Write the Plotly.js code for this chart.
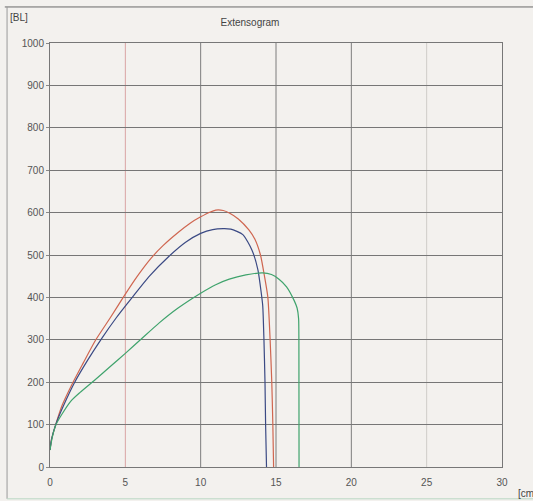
<!DOCTYPE html>
<html>
<head>
<meta charset="utf-8">
<script src="https://cdn.plot.ly/plotly-3.0.1.min.js"></script>
<style>
  html, body { margin: 0; padding: 0; background: #f3f1ee; }
  #chart { width: 533px; height: 501px; }
</style>
</head>
<body>
<div id="chart"></div>
<script>
// Extension [cm] vs resistance [BL]
const redX = [0, 0.1, 0.38, 0.8, 1.53, 2.2, 3.04, 4.0, 4.86, 5.8, 6.7, 7.5, 8.5, 9.3, 10, 10.6, 11.0, 11.5, 11.9, 12.5, 13.2, 13.6, 13.97, 14.24, 14.46, 14.61, 14.72, 14.79, 14.84];
const redY = [40, 65, 100, 145, 200, 245, 300, 352, 400, 450, 492, 522, 553, 575, 590, 601, 606, 605, 599, 585, 559, 537, 500, 449, 400, 300, 200, 100, 0];

const blueX = [0, 0.1, 0.38, 0.9, 1.64, 2.5, 3.37, 4.4, 5.46, 6.6, 7.9, 9.0, 10, 10.8, 11.5, 12.0, 12.8, 13.4, 13.8, 14.02, 14.12, 14.2, 14.27, 14.31, 14.37];
const blueY = [40, 65, 100, 145, 200, 252, 300, 352, 400, 450, 497, 530, 551, 560, 562, 561, 548, 512, 465, 411, 380, 300, 200, 100, 0];

const greenX = [0, 0.15, 0.4, 0.8, 1.4, 2.0, 2.9, 4.0, 5.0, 6.0, 7.25, 8.5, 10, 11, 11.9, 13, 14.1, 14.7, 15.2, 15.7, 16.2, 16.4, 16.5, 16.52, 16.53];
const greenY = [40, 70, 100, 125, 156, 176, 203, 237, 268, 300, 340, 375, 410, 430, 443, 453, 458, 454, 443, 425, 393, 375, 350, 300, 0];

const xTicks = [0, 5, 10, 15, 20, 25, 30];
const yTicks = [0, 100, 200, 300, 400, 500, 600, 700, 800, 900, 1000];
// colour of each vertical gridline (as on the printed sheet)
const xGridColors = ['#777', '#d9a3a3', '#7d7d7d', '#7d7d7d', '#7d7d7d', '#cfccc8', '#777'];

const bg = '#f3f1ee';
const fontFam = '"Liberation Sans Narrow", "Liberation Sans", Arial, sans-serif';

const lineStyle = (c) => ({ color: c, width: 1.2, shape: 'spline', smoothing: 0.6 });

const traces = [
  { x: redX, y: redY, mode: 'lines', line: lineStyle('#cf6650'), hoverinfo: 'skip' },
  { x: blueX, y: blueY, mode: 'lines', line: lineStyle('#3b4a84'), hoverinfo: 'skip' },
  { x: greenX, y: greenY, mode: 'lines', line: lineStyle('#3fa36c'), hoverinfo: 'skip' }
];

const gridShapes = xTicks.slice(1, -1).map((v, i) => ({
  type: 'line', xref: 'x', yref: 'paper', x0: v, x1: v, y0: 0, y1: 1,
  line: { color: xGridColors[i + 1], width: 1 }, layer: 'below'
}));

const layout = {
  width: 533, height: 501,
  margin: { l: 50, r: 31, t: 43, b: 34, pad: 0 },
  paper_bgcolor: bg, plot_bgcolor: bg,
  showlegend: false,
  font: { family: fontFam, size: 10, color: '#555' },
  title: {
    text: 'Extensogram',
    font: { family: fontFam, size: 10, color: '#444' },
    xref: 'container', x: 0.469, xanchor: 'center',
    yref: 'container', y: 0.956, yanchor: 'middle'
  },
  xaxis: {
    range: [0, 30], tickvals: xTicks, ticktext: xTicks.map(String),
    showgrid: false,
    zeroline: false, showline: true, linecolor: '#777', linewidth: 1, mirror: true,
    ticks: 'outside', ticklen: 6, tickcolor: bg,
    tickfont: { family: fontFam, size: 10, color: '#555' }
  },
  yaxis: {
    range: [0, 1000], tickvals: yTicks, ticktext: yTicks.map(String),
    showgrid: true, gridcolor: '#767676', gridwidth: 1,
    zeroline: false, showline: true, linecolor: '#777', linewidth: 1, mirror: true,
    ticks: 'outside', ticklen: 3, tickcolor: '#888',
    tickfont: { family: fontFam, size: 10, color: '#555' }
  },
  shapes: gridShapes.concat([
    // page frame lines (scanned document)
    { type: 'line', xref: 'paper', yref: 'paper', x0: -0.1, x1: 1.07, y0: 1.085, y1: 1.085, line: { color: '#6a6a6a', width: 1 } },
    { type: 'line', xref: 'paper', yref: 'paper', x0: -0.095, x1: -0.095, y0: 1.085, y1: -0.075, line: { color: '#9a9a9a', width: 1 } },
    { type: 'line', xref: 'paper', yref: 'paper', x0: -0.095, x1: 1.07, y0: -0.075, y1: -0.075, line: { color: '#b9d8c4', width: 1 } }
  ]),
  annotations: [
    { text: '[BL]', xref: 'paper', yref: 'paper', x: -0.093, y: 1.06, xanchor: 'left', yanchor: 'middle', showarrow: false, font: { family: fontFam, size: 10, color: '#444' } },
    { text: '[cm', xref: 'paper', yref: 'paper', x: 1.03, y: -0.062, xanchor: 'left', yanchor: 'middle', showarrow: false, font: { family: fontFam, size: 10, color: '#444' } }
  ]
};

Plotly.newPlot('chart', traces, layout, { displayModeBar: false, staticPlot: true });
</script>
</body>
</html>
